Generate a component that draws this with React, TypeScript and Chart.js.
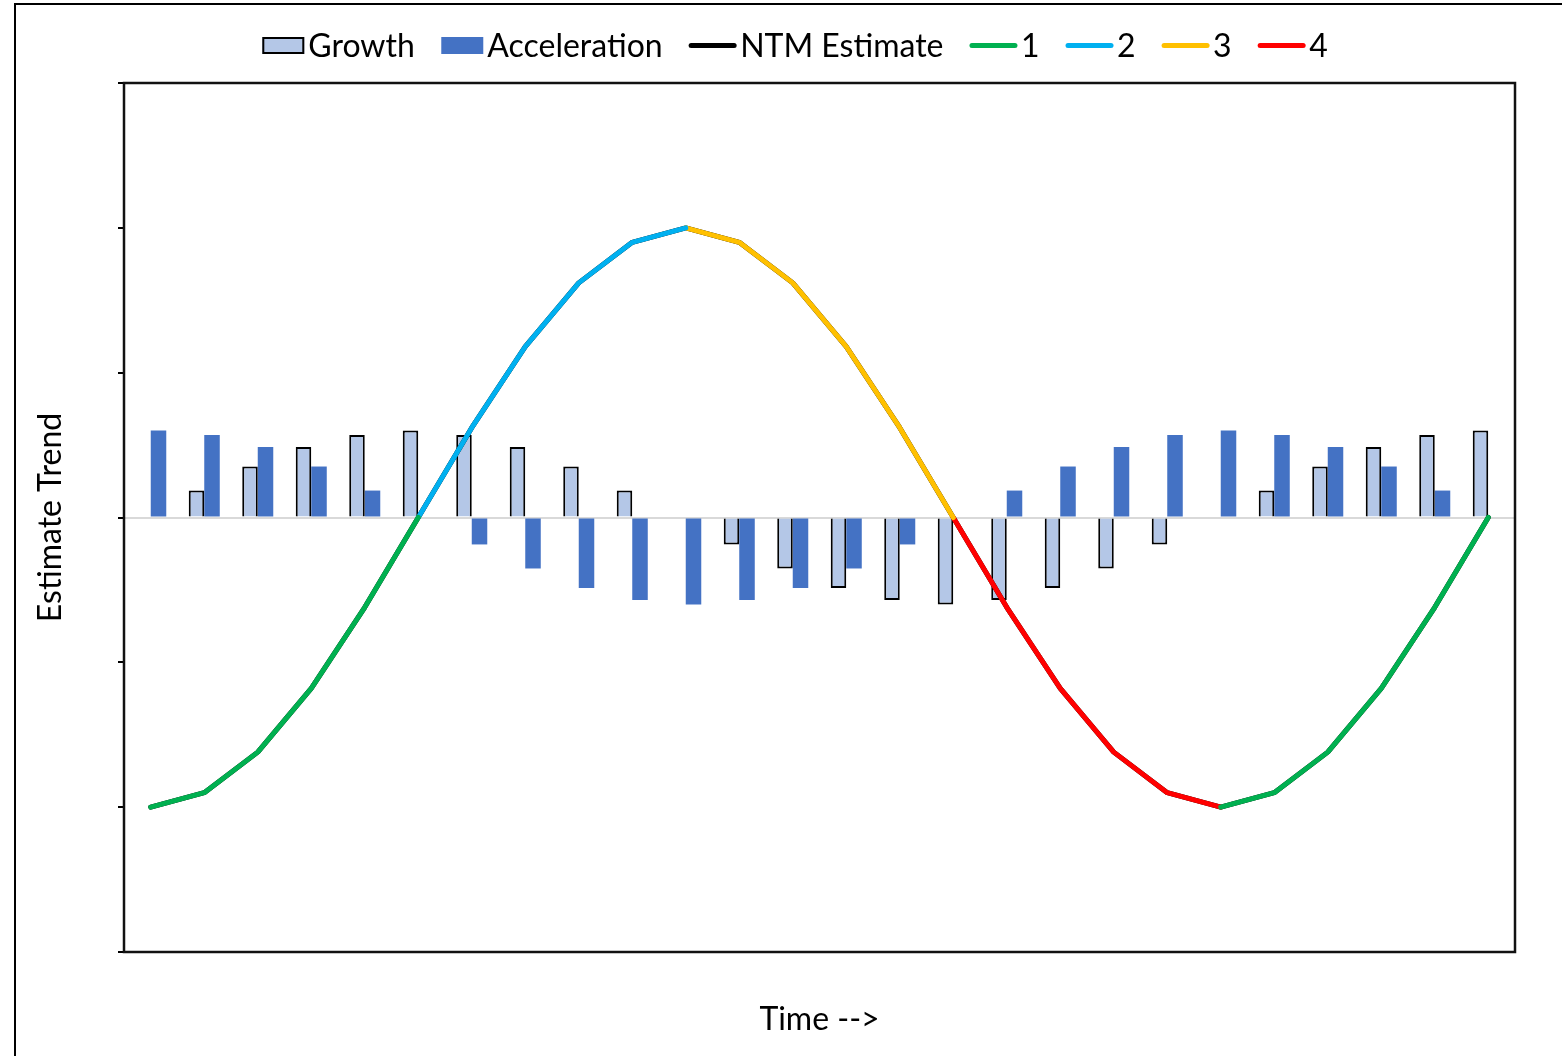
import React, { useEffect, useRef } from "react";
import { Chart, registerables } from "chart.js";

Chart.register(...registerables);

const periods = ["1", "2", "3", "4", "5", "6", "7", "8", "9", "10", "11", "12", "13", "14", "15", "16", "17", "18", "19", "20", "21", "22", "23", "24", "25", "26"];

const growth = [0, 0.093, 0.176, 0.243, 0.285, 0.3, 0.285, 0.243, 0.176, 0.093, 0, -0.093, -0.176, -0.243, -0.285, -0.3, -0.285, -0.243, -0.176, -0.093, 0, 0.093, 0.176, 0.243, 0.285, 0.3];

const acceleration = [0.3, 0.285, 0.243, 0.176, 0.093, 0, -0.093, -0.176, -0.243, -0.285, -0.3, -0.285, -0.243, -0.176, -0.093, 0, 0.093, 0.176, 0.243, 0.285, 0.3, 0.285, 0.243, 0.176, 0.093, 0];

const ntmEstimate = [-1, -0.95, -0.81, -0.59, -0.31, 0, 0.31, 0.59, 0.81, 0.95, 1, 0.95, 0.81, 0.59, 0.31, 0, -0.31, -0.59, -0.81, -0.95, -1, -0.95, -0.81, -0.59, -0.31, 0];

const phase1 = [-1, -0.95, -0.81, -0.59, -0.31, 0, null, null, null, null, null, null, null, null, null, null, null, null, null, null, -1, -0.95, -0.81, -0.59, -0.31, 0];
const phase2 = [null, null, null, null, null, 0, 0.31, 0.59, 0.81, 0.95, 1, null, null, null, null, null, null, null, null, null, null, null, null, null, null, null];
const phase3 = [null, null, null, null, null, null, null, null, null, null, 1, 0.95, 0.81, 0.59, 0.31, 0, null, null, null, null, null, null, null, null, null, null];
const phase4 = [null, null, null, null, null, null, null, null, null, null, null, null, null, null, null, 0, -0.31, -0.59, -0.81, -0.95, -1, null, null, null, null, null];

const yTicks = [-1.5, -1, -0.5, 0, 0.5, 1, 1.5];

const FONT = "Lato";
const LEGEND_SIZE = 32;

const legendPlugin = {
  id: "customLegend",
  afterDraw(chart: any) {
    const ctx = chart.ctx;
    ctx.save();
    ctx.font = `${LEGEND_SIZE}px ${FONT}`;
    ctx.textBaseline = "middle";
    const items = chart.data.datasets.map((ds: any) => ({
      text: ds.label,
      isBar: ds.type === "bar",
      fill: ds.backgroundColor,
      stroke: ds.borderColor,
      bw: ds.borderWidth || 0,
    }));
    const gapText = 4;
    const gapItem = 26.5;
    const widths = items.map((it: any) => (it.isBar ? 42 : 47) + gapText + ctx.measureText(it.text).width);
    const total = widths.reduce((a: number, b: number) => a + b, 0) + gapItem * (items.length - 1);
    let x = 795 - total / 2;
    const cy = 45.5;
    items.forEach((it: any) => {
      if (it.isBar) {
        ctx.fillStyle = it.fill;
        ctx.fillRect(x, cy - 8.5, 42, 17);
        if (it.bw) {
          ctx.strokeStyle = it.stroke;
          ctx.lineWidth = 2;
          ctx.strokeRect(x + 1, cy - 7.5, 40, 15);
        }
        x += 42;
      } else {
        ctx.strokeStyle = it.stroke;
        ctx.lineWidth = 5;
        ctx.lineCap = "round";
        ctx.beginPath();
        ctx.moveTo(x + 2, cy);
        ctx.lineTo(x + 45, cy);
        ctx.stroke();
        x += 47;
      }
      x += gapText;
      ctx.fillStyle = "#000";
      ctx.fillText(it.text, x, cy + 1);
      x += ctx.measureText(it.text).width + gapItem;
    });
    ctx.restore();
  },
};

const framePlugin = {
  id: "plotFrame",
  afterDatasetsDraw(chart: any) {
    const { ctx, chartArea } = chart;
    ctx.save();
    ctx.strokeStyle = "#111";
    ctx.lineWidth = 2.5;
    ctx.strokeRect(chartArea.left, chartArea.top, chartArea.right - chartArea.left, chartArea.bottom - chartArea.top);
    ctx.restore();
  },
};

export default function App() {
  const ref = useRef<HTMLCanvasElement | null>(null);

  useEffect(() => {
    if (!ref.current) return;
    const lineCommon = {
      type: "line" as const,
      borderWidth: 5,
      pointRadius: 0,
      pointHoverRadius: 0,
      tension: 0,
      fill: false,
      spanGaps: false,
      borderCapStyle: "round" as const,
      borderJoinStyle: "round" as const,
    };
    const chart = new Chart(ref.current, {
      type: "bar",
      data: {
        labels: periods,
        datasets: [
          {
            type: "bar",
            label: "Growth",
            data: growth,
            backgroundColor: "#B4C7E7",
            borderColor: "#000000",
            borderWidth: 2,
            order: 10,
          },
          {
            type: "bar",
            label: "Acceleration",
            data: acceleration,
            backgroundColor: "#4472C4",
            borderColor: "#4472C4",
            borderWidth: 0,
            order: 10,
          },
          { ...lineCommon, label: "NTM Estimate", data: ntmEstimate, borderColor: "#000000", backgroundColor: "#000000", order: 5 },
          { ...lineCommon, label: "1", data: phase1, borderColor: "#00B050", backgroundColor: "#00B050", order: 1 },
          { ...lineCommon, label: "2", data: phase2, borderColor: "#00B0F0", backgroundColor: "#00B0F0", order: 1 },
          { ...lineCommon, label: "3", data: phase3, borderColor: "#FFC000", backgroundColor: "#FFC000", order: 1 },
          { ...lineCommon, label: "4", data: phase4, borderColor: "#FF0000", backgroundColor: "#FF0000", order: 1 },
        ] as any,
      },
      options: {
        responsive: false,
        maintainAspectRatio: false,
        animation: false,
        devicePixelRatio: 1,
        layout: { padding: { top: 83, right: 47, left: 0, bottom: 0 } },
        datasets: {
          bar: { categoryPercentage: 0.58, barPercentage: 1 },
        },
        plugins: {
          legend: { display: false },
          tooltip: { enabled: false },
        },
        scales: {
          x: {
            type: "category",
            offset: true,
            grid: { display: false },
            border: { display: false },
            ticks: { display: false },
            title: {
              display: true,
              text: "Time -->",
              color: "#000",
              font: { family: FONT, size: 32 },
              padding: { top: 0, bottom: 17 },
            },
            afterFit: (scale: any) => {
              scale.height = 104;
            },
          },
          y: {
            type: "linear",
            min: yTicks[0],
            max: yTicks[yTicks.length - 1],
            afterBuildTicks: (scale: any) => {
              scale.ticks = yTicks.map((v) => ({ value: v }));
            },
            ticks: { display: false },
            border: { display: false },
            grid: {
              drawOnChartArea: true,
              drawTicks: true,
              tickLength: 6,
              tickWidth: 2,
              tickColor: "#000",
              lineWidth: 2,
              color: (c: any) => (c.tick && c.tick.value === 0 ? "#D9D9D9" : "rgba(0,0,0,0)"),
            },
            title: {
              display: true,
              text: "Estimate Trend",
              color: "#000",
              font: { family: FONT, size: 32 },
              padding: { top: 31, bottom: 0 },
            },
            afterFit: (scale: any) => {
              scale.width = 124;
            },
          },
        },
      },
      plugins: [framePlugin, legendPlugin],
    });
    return () => chart.destroy();
  }, []);

  return (
    <div>
      <div
        style={{
          position: "fixed",
          left: 14,
          top: 3,
          width: 1700,
          height: 1200,
          border: "2px solid #000",
          boxSizing: "border-box",
        }}
      />
      <canvas
        ref={ref}
        width={1562}
        height={1056}
        style={{ position: "fixed", left: 0, top: 0, width: 1562, height: 1056 }}
      />
    </div>
  );
}
